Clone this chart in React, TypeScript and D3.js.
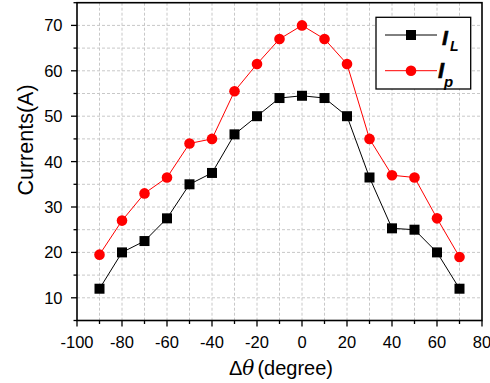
import React from "react";
import * as d3 from "d3";

const angles = [-90, -80, -70, -60, -50, -40, -30, -20, -10, 0, 10, 20, 30, 40, 50, 60, 70];
const currentL = [12, 20, 22.5, 27.5, 35, 37.5, 46, 50, 54, 54.5, 54, 50, 36.5, 25.3, 25, 20, 12];
const currentP = [19.5, 27, 33, 36.5, 44, 45, 55.5, 61.5, 67, 70, 67, 61.5, 45, 37, 36.5, 27.5, 19];
const xTicks = [-100, -80, -60, -40, -20, 0, 20, 40, 60, 80];
const yTicks = [10, 20, 30, 40, 50, 60, 70];

const W = 490, H = 383;
const L = 77, R = 482, T = 2.7, B = 320.5;
const FONT = "Liberation Sans, Arial, sans-serif";

export default function App() {
  const x = d3.scaleLinear().domain([-100, 80]).range([L, R]);
  const y = d3.scaleLinear().domain([5, 75]).range([B, T]);
  const line = d3.line<number>().x((_, i) => x(angles[i])).y((d) => y(d));
  const xMinor = d3.range(-100, 81, 10);
  const yMinor = d3.range(5, 76, 5);
  const xGrid = d3.range(-90, 80, 10);
  const yGrid = d3.range(10, 75, 5);
  return (
    <svg width={W} height={H} style={{ position: "absolute", left: 0, top: 0 }} fontFamily={FONT}>
      <rect x={0} y={0} width={W} height={H} fill="#fff" />
      {xGrid.map((v) => (
        <line key={"gx" + v} x1={x(v)} x2={x(v)} y1={T} y2={B} stroke="#c8c8c8" strokeWidth={1} strokeDasharray="3,2" />
      ))}
      {yGrid.map((v) => (
        <line key={"gy" + v} x1={L} x2={R} y1={y(v)} y2={y(v)} stroke="#c8c8c8" strokeWidth={1} strokeDasharray="3,2" />
      ))}
      <rect x={L} y={T} width={R - L} height={B - T} fill="none" stroke="#000" strokeWidth={1.6} />
      {xMinor.map((v) => (
        <line key={"tx" + v} x1={x(v)} x2={x(v)} y1={B} y2={B + (v % 20 === 0 ? 6 : 3.5)} stroke="#000" strokeWidth={1.3} />
      ))}
      {yMinor.map((v) => (
        <line key={"ty" + v} x1={L} x2={L - (v % 10 === 0 ? 6 : 3.5)} y1={y(v)} y2={y(v)} stroke="#000" strokeWidth={1.3} />
      ))}
      {xTicks.map((v) => (
        <text key={"lx" + v} x={x(v)} y={348.3} textAnchor="middle" fontSize={16.5}>{v}</text>
      ))}
      {yTicks.map((v) => (
        <text key={"ly" + v} x={62.5} y={y(v) + 6} textAnchor="end" fontSize={16.5}>{v}</text>
      ))}
      <text x={281} y={375} textAnchor="middle" fontSize={20}>
        <tspan>Δ</tspan>
        <tspan fontStyle="italic" fontFamily="DejaVu Serif, serif">θ</tspan>
        <tspan dx={3}>(degree)</tspan>
      </text>
      <text transform="translate(33,140) rotate(-90)" textAnchor="middle" fontSize={21.5}>Currents(A)</text>
      <path d={line(currentL) || ""} fill="none" stroke="#000" strokeWidth={1} />
      <path d={line(currentP) || ""} fill="none" stroke="#ff0000" strokeWidth={1} />
      {currentL.map((v, i) => (
        <rect key={"sL" + i} x={x(angles[i]) - 5} y={y(v) - 5} width={10} height={10} fill="#000" />
      ))}
      {currentP.map((v, i) => (
        <circle key={"cP" + i} cx={x(angles[i])} cy={y(v)} r={5.3} fill="#ff0000" />
      ))}
      <rect x={376} y={17.3} width={94.7} height={71.7} fill="#fff" stroke="#000" strokeWidth={1.3} />
      <line x1={385} x2={437} y1={35} y2={35} stroke="#000" strokeWidth={1} />
      <rect x={406} y={30} width={10} height={10} fill="#000" />
      <line x1={385} x2={437} y1={70.7} y2={70.7} stroke="#ff0000" strokeWidth={1} />
      <circle cx={411} cy={70.7} r={5.3} fill="#ff0000" />
      <text x={442} y={45} fontSize={21} fontWeight="bold" fontStyle="italic" stroke="#000" strokeWidth={0.6}>I</text>
      <text x={450} y={50.7} fontSize={14} fontWeight="bold" fontStyle="italic">L</text>
      <text x={438} y={78} fontSize={22} fontWeight="bold" fontStyle="italic" stroke="#000" strokeWidth={0.6}>I</text>
      <text x={444} y={87} fontSize={15} fontWeight="bold" fontStyle="italic">p</text>
    </svg>
  );
}
